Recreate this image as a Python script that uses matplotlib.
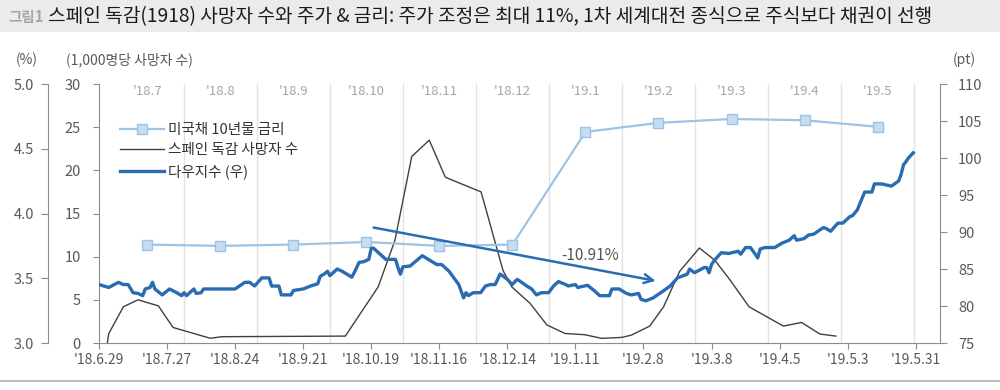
import numpy as np
import matplotlib.pyplot as plt
import matplotlib.dates as mdates
from matplotlib.patches import Rectangle
from matplotlib.lines import Line2D

plt.rcParams['font.family'] = ['Noto Sans CJK KR', 'DejaVu Sans']

# top axis: 1918-19 months, one unit per month (0 = start of '18.7)
month_labels = ["'18.7", "'18.8", "'18.9", "'18.10", "'18.11", "'18.12",
                "'19.1", "'19.2", "'19.3", "'19.4", "'19.5"]
month_mid = [0.5, 1.5, 2.5, 3.5, 4.5, 5.5, 6.5, 7.5, 8.5, 9.5, 10.5]
month_edges = [1, 2, 3, 4, 5, 6, 7, 8, 9, 10, 11]

# US 10y treasury yield (%), monthly, 1918-19
rate_10y = [3.76, 3.75, 3.76, 3.78, 3.75, 3.76, 4.63, 4.70, 4.73, 4.72, 4.67]

# Spanish flu deaths per 1,000 (position in month units)
death_pos = [-0.05, -0.03, 0.17, 0.37, 0.65, 0.85, 1.36, 1.52, 3.21, 3.66, 3.89,
             4.12, 4.36, 4.58, 5.07, 5.37, 5.49, 5.74, 5.97, 6.22, 6.49, 6.72,
             7.00, 7.13, 7.38, 7.57, 7.79, 8.06, 8.27, 8.48, 8.74, 9.21, 9.46,
             9.71, 9.93]
death_rate = [0.0, 1.1, 4.2, 5.0, 4.3, 1.8, 0.55, 0.73, 0.8, 6.5, 11.9,
              21.6, 23.5, 19.2, 17.5, 8.4, 6.5, 4.6, 2.1, 1.1, 0.96, 0.54,
              0.65, 0.92, 1.96, 4.2, 8.3, 11.0, 9.6, 7.3, 4.2, 1.96, 2.38,
              1.04, 0.8]

# Dow index (pt), days since 2018-06-29
dow_start = np.datetime64('2018-06-29')
dow_day = [0, 4, 8, 10, 12, 14, 16, 18, 19, 21, 22, 23, 26, 29, 32, 34, 35, 36,
           39, 40, 42, 43, 56, 60, 62, 64, 67, 70, 71, 74, 75, 79, 80, 84, 87,
           89, 90, 91, 93, 94, 95, 98, 100, 104, 105, 107, 109, 111, 112, 113,
           118, 122, 123, 124, 125, 128, 133, 135, 139, 141, 144, 148, 150, 151,
           152, 154, 157, 159, 161, 163, 165, 166, 168, 170, 172, 173, 176, 178,
           180, 182, 185, 187, 189, 192, 193, 196, 197, 201, 204, 206, 210, 211,
           214, 217, 219, 222, 223, 225, 228, 232, 235, 238, 242, 243, 245, 249,
           250, 251, 252, 253, 256, 259, 263, 264, 266, 268, 270, 271, 272, 274,
           278, 281, 284, 286, 287, 290, 292, 294, 298, 299, 301, 304, 306, 309,
           310, 312, 315, 318, 319, 322, 326, 329, 330, 331, 332, 333, 335]
dow_index = [82.9, 82.5, 83.2, 82.9, 82.9, 81.8, 81.7, 81.4, 82.3, 82.5, 83.2,
             82.3, 81.5, 82.3, 81.8, 81.4, 81.8, 81.4, 82.3, 81.7, 81.8, 82.3,
             82.3, 83.2, 83.2, 82.7, 83.8, 83.8, 82.7, 82.7, 81.5, 81.5, 82.1,
             82.3, 82.7, 82.9, 83.0, 84.0, 84.4, 84.7, 84.1, 85.0, 84.7, 83.9,
             84.5, 85.9, 86.0, 86.3, 87.8, 87.8, 86.3, 86.3, 85.2, 84.3, 85.3,
             85.4, 86.8, 86.4, 85.6, 85.6, 84.7, 82.9, 81.1, 81.8, 81.4, 81.8,
             81.8, 82.7, 82.9, 82.9, 84.3, 84.1, 83.6, 82.9, 83.6, 83.4, 82.7,
             82.3, 81.5, 81.8, 81.8, 82.7, 83.3, 82.9, 82.7, 82.9, 82.5, 82.8,
             82.0, 81.4, 81.4, 82.3, 82.3, 81.7, 81.5, 81.7, 80.9, 80.7, 81.1,
             82.0, 82.7, 83.8, 84.3, 85.0, 84.5, 85.2, 85.2, 84.5, 85.6, 86.1,
             87.2, 87.1, 87.4, 87.0, 87.9, 87.9, 87.0, 86.5, 87.7, 87.9, 87.9,
             88.5, 88.9, 89.5, 88.9, 89.1, 89.6, 89.7, 90.6, 90.5, 90.1, 91.2,
             91.2, 92.1, 92.2, 93.0, 95.4, 95.4, 96.5, 96.5, 96.2, 96.9, 97.8,
             99.1, 99.5, 100.0, 100.7]

date_ticks = ['2018-06-29', '2018-07-27', '2018-08-24', '2018-09-21',
              '2018-10-19', '2018-11-16', '2018-12-14', '2019-01-11',
              '2019-02-08', '2019-03-08', '2019-04-05', '2019-05-03',
              '2019-05-31']
date_tick_labels = ["'18.6.29", "'18.7.27", "'18.8.24", "'18.9.21",
                    "'18.10.19", "'18.11.16", "'18.12.14", "'19.1.11",
                    "'19.2.8", "'19.3.8", "'19.4.5", "'19.5.3", "'19.5.31"]

# correction arrow on the Dow: from / to
arrow_from = ('2018-10-20', 90.6)
arrow_to = ('2019-02-13', 83.4)
arrow_text = ('2019-01-17', 86.85, '-10.91%')

title_tag = '그림1'
title = '스페인 독감(1918) 사망자 수와 주가 & 금리: 주가 조정은 최대 11%, 1차 세계대전 종식으로 주식보다 채권이 선행'

C_DOW = '#2a6cb1'
C_RATE = '#9dc3e6'
C_RATE_FACE = '#c6dcf1'
C_DEATH = '#404040'
C_TICK = '#595959'
C_SPINE = '#8c8c8c'

fig = plt.figure(figsize=(10, 3.9), dpi=100)
fig.patches.append(Rectangle((0, 1 - 32 / 390), 1, 32 / 390, transform=fig.transFigure,
                             facecolor='#ebebeb', edgecolor='none', zorder=0))
fig.text(0.008, 1 - 17 / 390, title_tag, fontsize=10.5, color='#a6a6a6',
         fontweight='bold', va='center')
fig.text(0.048, 1 - 17 / 390, title, fontsize=13.8, color='#1a1a1a', va='center')
fig.add_artist(Line2D([0, 1], [1 - 381 / 390] * 2, color='#bfbfbf', lw=1.5))

rect = [0.099, 0.1205, 0.841, 0.6641]

# base axes: deaths, inner left axis, 1918 month grid
ax_b = fig.add_axes(rect)
ax_b.plot(death_pos, death_rate, color=C_DEATH, lw=1.0, label='스페인 독감 사망자 수')
ax_b.set_xlim(-0.164, 11.356)
ax_b.set_ylim(0, 30)
ax_b.set_yticks([0, 5, 10, 15, 20, 25, 30])
ax_b.set_xticks(month_edges, minor=True)
ax_b.set_xticks([])
ax_b.grid(True, which='minor', axis='x', color='#e3e3e3', lw=1.0)
ax_b.tick_params(axis='x', which='both', length=0, labelbottom=False)
ax_b.tick_params(axis='y', length=4, color=C_SPINE, labelsize=10.5,
                 labelcolor=C_TICK, pad=9)
for s in ['top', 'right', 'bottom']:
    ax_b.spines[s].set_visible(False)
ax_b.spines['left'].set_color(C_SPINE)
for xm, lab in zip(month_mid, month_labels):
    ax_b.text(xm, 0.972, lab, transform=ax_b.get_xaxis_transform(), ha='center',
              va='center', fontsize=9.5, color='#a6a6a6')

# rate axes: outer left axis
ax_r = fig.add_axes(rect, sharex=ax_b)
ax_r.patch.set_visible(False)
ax_r.plot(month_mid, rate_10y, color=C_RATE, lw=1.6, marker='s', markersize=7.5,
          markerfacecolor=C_RATE_FACE, markeredgecolor=C_RATE, markeredgewidth=1.0,
          label='미국채 10년물 금리')
ax_r.set_ylim(3.0, 5.0)
ax_r.set_yticks([3.0, 3.5, 4.0, 4.5, 5.0])
ax_r.yaxis.set_major_formatter(plt.FormatStrFormatter('%.1f'))
ax_r.spines['left'].set_position(('axes', -51 / 841))
ax_r.spines['left'].set_color(C_SPINE)
for s in ['top', 'right', 'bottom']:
    ax_r.spines[s].set_visible(False)
ax_r.tick_params(axis='x', which='both', length=0, labelbottom=False)
ax_r.tick_params(axis='y', length=5, color=C_SPINE, labelsize=10.5,
                 labelcolor=C_TICK, pad=5)

# Dow axes: date axis bottom, right y axis
ax_d = fig.add_axes(rect)
ax_d.patch.set_visible(False)
dow_dates = dow_start + np.array(dow_day, dtype='timedelta64[D]')
ax_d.plot(dow_dates, dow_index, color=C_DOW, lw=2.4, solid_joinstyle='round',
          label='다우지수 (우)')
ax_d.set_xlim(np.datetime64('2018-06-29'), np.datetime64('2019-06-10'))
ax_d.set_ylim(75, 110)
ax_d.set_yticks([75, 80, 85, 90, 95, 100, 105, 110])
ax_d.yaxis.tick_right()
ax_d.set_xticks(np.array(date_ticks, dtype='datetime64[D]'))
ax_d.set_xticklabels(date_tick_labels)
ax_d.tick_params(axis='x', length=4, color=C_SPINE, labelsize=10,
                 labelcolor=C_TICK, pad=3)
ax_d.tick_params(axis='y', length=5, color=C_SPINE, labelsize=10.5,
                 labelcolor=C_TICK, pad=8)
for s in ['top', 'left']:
    ax_d.spines[s].set_visible(False)
ax_d.spines['right'].set_color(C_SPINE)
ax_d.spines['bottom'].set_color(C_SPINE)

ax_d.annotate('', xy=(np.datetime64(arrow_to[0]), arrow_to[1]),
              xytext=(np.datetime64(arrow_from[0]), arrow_from[1]),
              arrowprops=dict(arrowstyle='->', color=C_DOW, lw=1.8,
                              mutation_scale=16, shrinkA=0, shrinkB=0))
ax_d.text(np.datetime64(arrow_text[0]), arrow_text[1], arrow_text[2],
          ha='center', va='center', fontsize=11, color='#555555')

# axis unit labels
fig.text(0.027, 1 - 60 / 390, '(%)', fontsize=10, color=C_TICK, ha='center', va='center')
fig.text(0.066, 1 - 60 / 390, '(1,000명당 사망자 수)', fontsize=10, color=C_TICK,
         va='center')
fig.text(0.964, 1 - 60 / 390, '(pt)', fontsize=10, color=C_TICK, ha='center', va='center')

handles = [ax_r.get_lines()[0], ax_b.get_lines()[0], ax_d.get_lines()[0]]
fig.legend(handles, [h.get_label() for h in handles], loc='upper left',
           bbox_to_anchor=(0.114, 1 - 117 / 390), frameon=False, fontsize=10.5,
           handlelength=3.0, handletextpad=0.3, labelspacing=0.45,
           labelcolor='#333333', borderaxespad=0)

fig.savefig('out.png', dpi=100)
